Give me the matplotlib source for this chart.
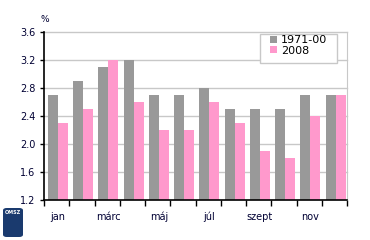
import numpy as np
import matplotlib
matplotlib.use('Agg')
import matplotlib.pyplot as plt
from matplotlib.patches import FancyBboxPatch, Rectangle

months = ['jan', '', 'márc', '', 'máj', '', 'júl', '', 'szept', '', 'nov', '']
normal = [2.7, 2.9, 3.1, 3.2, 2.7, 2.7, 2.8, 2.5, 2.5, 2.5, 2.7, 2.7]
y2008 = [2.3, 2.5, 3.2, 2.6, 2.2, 2.2, 2.6, 2.3, 1.9, 1.8, 2.4, 2.7]

plt.rcParams['font.family'] = ['Verdana', 'DejaVu Sans']
fig = plt.figure(figsize=(3.7, 2.4), dpi=100)
ax = fig.add_axes([44/370, 1-199.5/240, 303/370, 167/240])

x = np.arange(len(months))
w = 0.4
ax.bar(x - w/2, normal, width=w, color='#999999', label='1971-00', zorder=2)
ax.bar(x + w/2, y2008, width=w, color='#ff99cc', label='2008', zorder=2)

ax.set_ylim(1.2, 3.6)
ax.set_xlim(-0.55, 11.45)
yt = np.arange(1.2, 3.61, 0.4)
ax.set_yticks(yt)
ax.set_yticklabels(['%.1f' % v for v in yt], fontsize=7, color='#000033')
for v in yt[1:]:
    ax.axhline(v, color='#c8c8c8', linewidth=1, zorder=0, clip_on=False)

ax.set_xticks(np.arange(-0.55, 11.5, 1.0))
ax.set_xticklabels([])
ax.set_xticks(x, minor=True)
ax.set_xticklabels(months, minor=True, fontsize=7, color='#000033')
ax.tick_params(axis='x', which='minor', length=0, pad=9)
ax.tick_params(axis='x', which='major', length=4, width=1)
ax.tick_params(axis='y', length=3, width=1, pad=3)

ax.spines['top'].set_visible(False)
ax.spines['right'].set_color('#c8c8c8')
ax.spines['left'].set_linewidth(1.2)
ax.spines['bottom'].set_linewidth(1.2)

ax.text(-0.01, 1.05, '%', transform=ax.transAxes, fontsize=6.5, color='#000033',
        ha='left', va='bottom')

# legend box drawn separately (wide side padding)
ax.add_patch(Rectangle((260/370, 1-63/240), 77/370, 29/240, transform=fig.transFigure,
                       facecolor='white', edgecolor='#c8c8c8', linewidth=1, zorder=5, clip_on=False))
leg = ax.legend(loc='upper left', bbox_to_anchor=(270/370, 1-35/240), bbox_transform=fig.transFigure,
                fontsize=8, frameon=False, handlelength=0.6, handleheight=0.6,
                handletextpad=0.4, borderpad=0, labelspacing=0.05, borderaxespad=0)
leg.set_zorder(6)

# OMSZ logo stand-in
fig.patches.append(FancyBboxPatch((3/370, 3/240), 20/370, 29/240, boxstyle='round,pad=0,rounding_size=0.01',
                                  transform=fig.transFigure, facecolor='#1a3a6e', edgecolor='none'))
fig.text(13/370, 27/240, 'OMSZ', fontsize=3.5, color='white', ha='center', va='center', weight='bold')

fig.savefig('out.png', dpi=100)
